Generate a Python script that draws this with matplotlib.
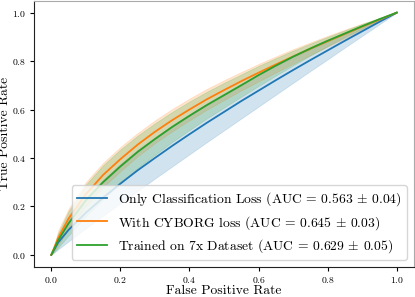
import matplotlib
matplotlib.use("Agg")
import matplotlib.pyplot as plt

plt.rcParams['font.family'] = ['cmr10', 'DejaVu Serif']
plt.rcParams['mathtext.fontset'] = 'cm'
plt.rcParams['axes.formatter.use_mathtext'] = True

# false positive rate grid
fpr = [0.0, 0.02, 0.05, 0.1, 0.15, 0.2, 0.25, 0.3, 0.35, 0.4, 0.45, 0.5,
       0.55, 0.6, 0.65, 0.7, 0.75, 0.8, 0.85, 0.9, 0.95, 1.0]

# Only Classification Loss
blue_mean = [0.0, 0.051, 0.103, 0.174, 0.236, 0.294, 0.349, 0.400, 0.450, 0.498, 0.545,
             0.590, 0.635, 0.678, 0.721, 0.763, 0.804, 0.844, 0.884, 0.923, 0.962, 1.0]
blue_low = [0.0, 0.023, 0.056, 0.110, 0.162, 0.213, 0.264, 0.315, 0.365, 0.415, 0.465,
            0.514, 0.563, 0.612, 0.661, 0.710, 0.759, 0.807, 0.856, 0.904, 0.952, 1.0]
blue_up = [0.0, 0.079, 0.150, 0.238, 0.310, 0.375, 0.434, 0.485, 0.535, 0.581, 0.625,
           0.666, 0.707, 0.744, 0.781, 0.816, 0.849, 0.881, 0.912, 0.942, 0.972, 1.0]

# With CYBORG loss
orange_mean = [0.0, 0.07, 0.15, 0.25, 0.33, 0.395, 0.455, 0.508, 0.556, 0.600, 0.642,
               0.680, 0.717, 0.752, 0.786, 0.819, 0.851, 0.882, 0.912, 0.942, 0.971, 1.0]
orange_low = [0.0, 0.04, 0.11, 0.20, 0.28, 0.345, 0.407, 0.461, 0.510, 0.555, 0.599,
              0.639, 0.679, 0.716, 0.753, 0.789, 0.825, 0.860, 0.894, 0.929, 0.964, 1.0]
orange_up = [0.0, 0.10, 0.19, 0.30, 0.38, 0.445, 0.503, 0.555, 0.602, 0.645, 0.685,
             0.721, 0.755, 0.788, 0.819, 0.849, 0.877, 0.904, 0.930, 0.955, 0.978, 1.0]

# Trained on 7x Dataset
green_mean = [0.0, 0.06, 0.13, 0.225, 0.30, 0.365, 0.425, 0.478, 0.528, 0.574, 0.618,
              0.659, 0.700, 0.742, 0.781, 0.818, 0.852, 0.884, 0.914, 0.944, 0.973, 1.0]
green_low = [0.0, 0.03, 0.08, 0.16, 0.23, 0.295, 0.358, 0.413, 0.466, 0.515, 0.563,
             0.608, 0.653, 0.697, 0.740, 0.782, 0.823, 0.862, 0.899, 0.934, 0.968, 1.0]
green_up = [0.0, 0.09, 0.18, 0.29, 0.37, 0.435, 0.492, 0.543, 0.590, 0.633, 0.673,
            0.710, 0.745, 0.780, 0.812, 0.843, 0.872, 0.900, 0.927, 0.953, 0.977, 1.0]

labels = [r'Only Classification Loss (AUC = 0.563 $\pm$ 0.04)',
          r'With CYBORG loss (AUC = 0.645 $\pm$ 0.03)',
          r'Trained on 7x Dataset (AUC = 0.629 $\pm$ 0.05)']

fig = plt.figure(figsize=(4.15, 2.97), dpi=100)
ax = fig.add_axes([34 / 415, 30 / 297, 380 / 415, 266.5 / 297])

series = [(blue_mean, blue_low, blue_up, 'tab:blue'),
          (orange_mean, orange_low, orange_up, 'tab:orange'),
          (green_mean, green_low, green_up, 'tab:green')]
for (m, lo, up, c), lab in zip(series, labels):
    ax.plot(fpr, m, color=c, lw=1.3, label=lab)
    ax.fill_between(fpr, lo, up, color=c, alpha=0.2, lw=0.5)

ax.set_xlabel('False Positive Rate', fontsize=9.7, labelpad=0)
ax.set_ylabel('True Positive Rate', fontsize=9.7, labelpad=1)
ax.tick_params(labelsize=7, length=3, width=0.8, pad=2.5)

for s in ['left', 'bottom']:
    ax.spines[s].set_color('#222222')
for s in ['top', 'right']:
    ax.spines[s].set_color('#aaaaaa')

ax.legend(loc='lower right', fontsize=9.8, framealpha=0.8, borderpad=0.4,
          handlelength=2.2, labelspacing=0.4, edgecolor='#cccccc')

fig.savefig('out.png', dpi=100)
